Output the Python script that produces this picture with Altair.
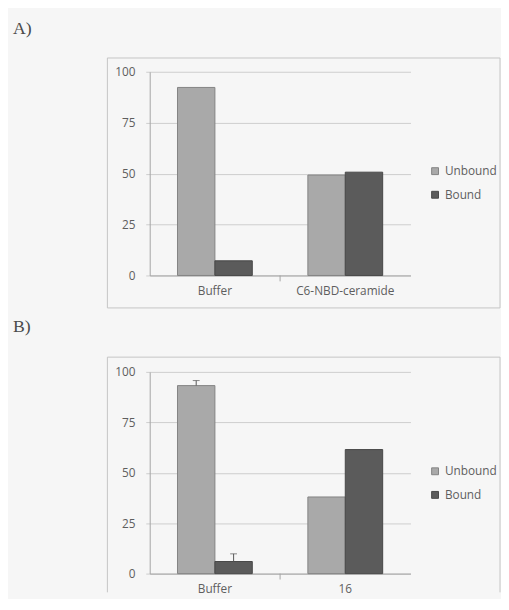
import altair as alt
import pandas as pd

# ---------------- data ----------------
panel_labels = ["A)", "B)"]
series = ["Unbound", "Bound"]

cats_a = ["Buffer", "C6-NBD-ceramide"]
unbound_a = [92.3, 49.3]
bound_a = [7.2, 50.7]

cats_b = ["Buffer", "16"]
unbound_b = [93.2, 38.0]
bound_b = [6.0, 61.5]
err_unbound_b = [2.5, 0.0]
err_bound_b = [3.8, 0.0]

y_ticks = [0, 25, 50, 75, 100]

# ---------------- style ----------------
FILL = ["#a9a9a9", "#5b5b5b"]
STROKE = ["#838383", "#474747"]
TEXT = "#5e5e5e"
FONT = "Open Sans"
GRID = "#cdcdcd"
AXIS = "#a3a3a3"
FRAME = "#c4c4c4"
BG = "#f6f6f6"


def long_df(cats, unb, bnd, eu=None, eb=None):
    rows = []
    for i, c in enumerate(cats):
        rows.append({"Category": c, "Series": series[0], "Value": unb[i],
                     "Err": (eu[i] if eu else 0.0)})
        rows.append({"Category": c, "Series": series[1], "Value": bnd[i],
                     "Err": (eb[i] if eb else 0.0)})
    df = pd.DataFrame(rows)
    df["Upper"] = df["Value"] + df["Err"]
    return df


def panel(label, label_y, cats, unb, bnd, h, eu=None, eb=None, closed=True, anchor=False):
    df = long_df(cats, unb, bnd, eu, eb)
    base = alt.Chart(df)

    x_scale = alt.Scale(domain=cats, paddingInner=0, paddingOuter=0)
    x_axis = alt.Axis(title=None, labelAngle=0, ticks=False,
                      labelPadding=10, domainColor=AXIS,
                      labelColor=TEXT, labelFont=FONT, labelFontSize=12,
                      grid=False)
    y_scale = alt.Scale(domain=[0, 100], nice=False)
    y_axis = alt.Axis(title=None, values=y_ticks, grid=True, gridColor=GRID,
                      domainColor=AXIS, tickColor=GRID, tickSize=4,
                      labelPadding=11, labelColor=TEXT, labelFont=FONT,
                      labelFontSize=12)

    def X(**kw):
        return alt.X("Category:N", sort=cats, scale=x_scale, axis=x_axis, title=None, **kw)

    xo = alt.XOffset("Series:N", sort=series,
                     scale=alt.Scale(domain=series, paddingInner=0, paddingOuter=0.743))

    def Y(field):
        return alt.Y(field, scale=y_scale, axis=y_axis, title=None)

    leg = alt.Legend(title=None, orient="none", legendX=284, legendY=95,
                     symbolType="square", symbolSize=49, symbolStrokeWidth=1,
                     labelFont=FONT, labelFontSize=12, labelColor=TEXT,
                     labelOffset=4, rowPadding=12, padding=0)

    bars = base.mark_bar(strokeWidth=1).encode(
        x=X(), xOffset=xo, y=Y("Value:Q"),
        fill=alt.Fill("Series:N", sort=series,
                      scale=alt.Scale(domain=series, range=FILL), legend=leg),
        stroke=alt.Stroke("Series:N", sort=series,
                          scale=alt.Scale(domain=series, range=STROKE), legend=leg),
    )

    # category separator tick on the x axis
    sep_df = pd.DataFrame({"Category": cats[1:]})
    sep = alt.Chart(sep_df).mark_rule(color=AXIS, strokeWidth=1).encode(
        x=X(bandPosition=0), y=alt.value(h), y2=alt.value(h + 6),
    )

    # panel label
    lab = alt.Chart(pd.DataFrame({"t": [label]})).mark_text(
        font="Liberation Serif", fontSize=18, color="#4a4a4a",
        align="left", baseline="middle",
    ).encode(x=alt.value(-139), y=alt.value(label_y), text="t:N")

    one = pd.DataFrame({"k": [0]})
    layers = []
    if anchor:
        layers.append(alt.Chart(one).mark_rect(fill=BG, strokeWidth=0).encode(
            x=alt.value(-144), x2=alt.value(-143), y=alt.value(-60), y2=alt.value(-59)))
    if closed:
        layers.append(alt.Chart(one).mark_rect(fill=None, stroke=FRAME, strokeWidth=1).encode(
            x=alt.value(-43), x2=alt.value(356), y=alt.value(-14), y2=alt.value(240)))
    else:
        fb = alt.Chart(one).mark_rule(color=FRAME, strokeWidth=1)
        layers += [
            fb.encode(x=alt.value(-43), x2=alt.value(356), y=alt.value(-15)),
            fb.encode(x=alt.value(-43), y=alt.value(-15), y2=alt.value(224)),
            fb.encode(x=alt.value(356), y=alt.value(-15), y2=alt.value(224)),
        ]

    layers += [lab, bars, sep]

    if eu is not None:
        edf = df[df["Err"] > 0]
        eb_base = alt.Chart(edf)
        err = eb_base.mark_rule(color="#555555", strokeWidth=1).encode(
            x=X(), xOffset=xo, y=Y("Value:Q"), y2="Upper:Q")
        cap = eb_base.mark_tick(color="#555555", thickness=1, size=7,
                                orient="horizontal").encode(
            x=X(), xOffset=xo, y=Y("Upper:Q"))
        layers += [err, cap]

    return alt.layer(*layers).properties(width=265, height=h).resolve_scale(
        fill="independent", stroke="independent")


pa = panel(panel_labels[0], -43.5, cats_a, unbound_a, bound_a, 207, anchor=True)
pb = panel(panel_labels[1], -46, cats_b, unbound_b, bound_b, 205,
           eu=err_unbound_b, eb=err_bound_b, closed=False)

chart = alt.vconcat(pa, pb, spacing=98, bounds="flush").resolve_scale(
    fill="independent", stroke="independent", x="independent"
).resolve_legend(fill="independent", stroke="independent").properties(
    padding={"left": 0, "top": 0, "right": 0, "bottom": 0},
    background=BG,
).configure_view(stroke=None)

chart.save("out.html", embed_options={"renderer": "svg", "actions": False})
